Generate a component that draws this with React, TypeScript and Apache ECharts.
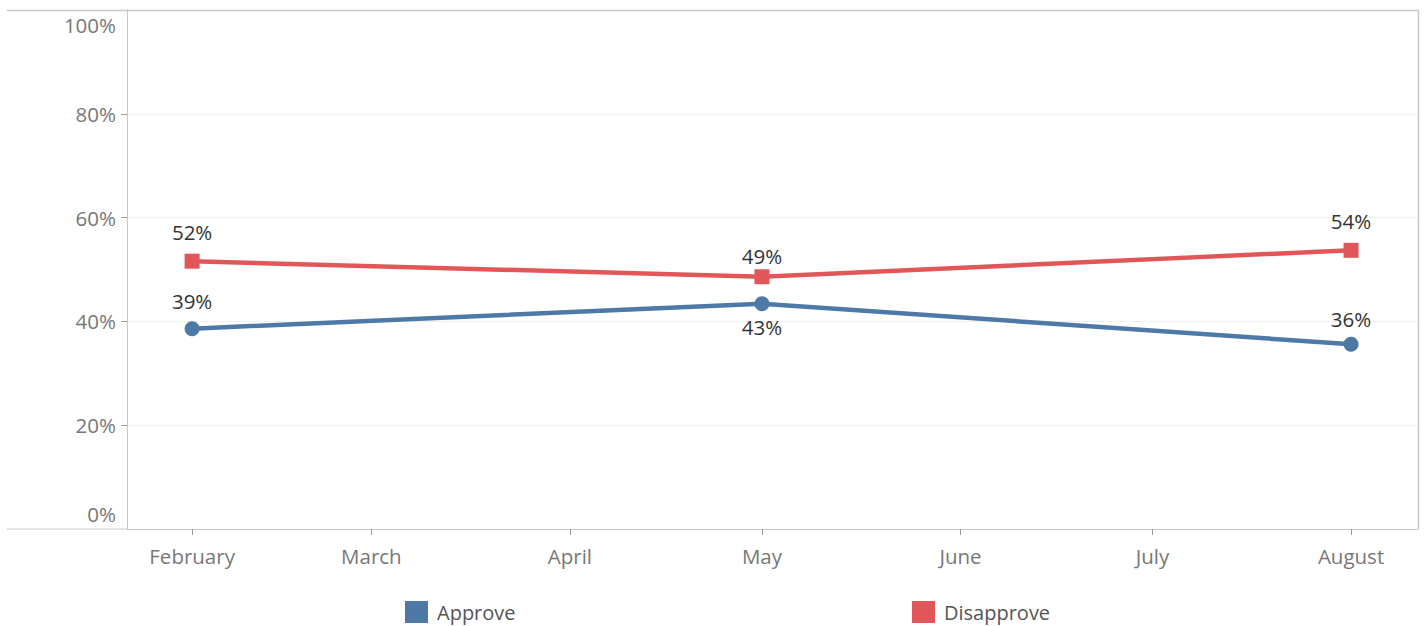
import React, { useEffect, useRef } from "react";
import * as echarts from "echarts";

const monthNames = ["January", "February", "March", "April", "May", "June", "July", "August"];
const tickMonths = [1, 2, 3, 4, 5, 6, 7];
const pollMonths = [1, 4, 7];
const approve = [38.6, 43.4, 35.6];
const disapprove = [51.6, 48.6, 53.7];
const yTicks = [20, 40, 60, 80];
const seriesNames = ["Approve", "Disapprove"];

const YEAR = 2023;
const ts = (m: number) => Date.UTC(YEAR, m, 1);

const FONT = "'Open Sans', 'Noto Sans', sans-serif";

export default function App() {
  const ref = useRef<HTMLDivElement>(null);
  useEffect(() => {
    if (!ref.current) return;
    const chart = echarts.init(ref.current, undefined, { renderer: "svg" });
    const approveLabels = [
      { position: "top", distance: 10 },
      { position: "bottom", distance: 5 },
      { position: "top", distance: 7 },
    ];
    const disapproveLabels = [
      { position: "top", distance: 11 },
      { position: "top", distance: 3 },
      { position: "top", distance: 11 },
    ];
    const labelStyle = { fontFamily: FONT, fontSize: 20.5, color: "#333" };
    const mk = (vals: number[], lbls: any[]) =>
      vals.map((v, i) => ({
        value: [ts(pollMonths[i]), v],
        label: { show: true, ...lbls[i], ...labelStyle, formatter: () => Math.round(v) + "%" },
      }));
    const xMin = Date.UTC(YEAR, 0, 21, 20);
    const xMax = Date.UTC(YEAR, 7, 11, 11);
    const legendBase = {
      top: 601,
      padding: 0,
      icon: "rect",
      itemWidth: 23,
      itemHeight: 22,
      textStyle: { fontFamily: FONT, fontSize: 20, lineHeight: 22, color: "#555", padding: [0, 0, 0, 4] },
    };
    chart.setOption({
      animation: false,
      grid: { left: 127, right: 8, top: 10, bottom: 97, containLabel: false },
      legend: [
        { ...legendBase, left: 405, data: [seriesNames[0]] },
        { ...legendBase, left: 912, data: [seriesNames[1]] },
      ],
      xAxis: {
        type: "value",
        min: xMin,
        max: xMax,
        axisLine: { show: true, lineStyle: { color: "#c8c8c8", width: 1 } },
        axisTick: { show: true, customValues: tickMonths.map(ts), length: 6, lineStyle: { color: "#999" } },
        axisLabel: {
          customValues: tickMonths.map(ts),
          formatter: (val: number) => monthNames[new Date(val).getUTCMonth()],
          fontFamily: FONT,
          fontSize: 20.5,
          color: "#777",
          margin: 16,
          hideOverlap: false,
        },
        splitLine: { show: false },
      },
      yAxis: {
        type: "value",
        min: 0,
        max: 100,
        interval: 20,
        axisLine: { show: true, lineStyle: { color: "#c8c8c8" } },
        axisTick: { show: true, customValues: yTicks, length: 6, lineStyle: { color: "#999" } },
        axisLabel: {
          formatter: "{value}%",
          fontFamily: FONT,
          fontSize: 20.5,
          lineHeight: 30,
          color: "#777",
          margin: 11,
          verticalAlignMinLabel: "bottom",
          verticalAlignMaxLabel: "top",
        },
        splitLine: { show: true, lineStyle: { color: "#efefef", width: 1 } },
      },
      graphic: [
        { type: "line", shape: { x1: 7, y1: 10.5, x2: 1418.5, y2: 10.5 }, style: { stroke: "#c8c8c8", lineWidth: 1.5 }, z: 100 },
        { type: "line", shape: { x1: 1418.5, y1: 10, x2: 1418.5, y2: 529 }, style: { stroke: "#c8c8c8", lineWidth: 1.5 }, z: 100 },
        { type: "line", shape: { x1: 7, y1: 529, x2: 127, y2: 529 }, style: { stroke: "#c8c8c8", lineWidth: 1 }, z: 100 },
      ],
      series: [
        {
          name: seriesNames[0],
          type: "line",
          data: mk(approve, approveLabels),
          symbol: "circle",
          symbolSize: 15,
          lineStyle: { width: 4.5, color: "#4e79a7" },
          itemStyle: { color: "#4e79a7" },
          z: 3,
        },
        {
          name: seriesNames[1],
          type: "line",
          data: mk(disapprove, disapproveLabels),
          symbol: "rect",
          symbolSize: 15,
          lineStyle: { width: 4.5, color: "#e15759" },
          itemStyle: { color: "#e15759" },
          z: 2,
        },
      ],
    });
    return () => chart.dispose();
  }, []);
  return (
    <div
      ref={ref}
      style={{ position: "fixed", left: 0, top: 0, width: 1426, height: 626, background: "#fff" }}
    />
  );
}
